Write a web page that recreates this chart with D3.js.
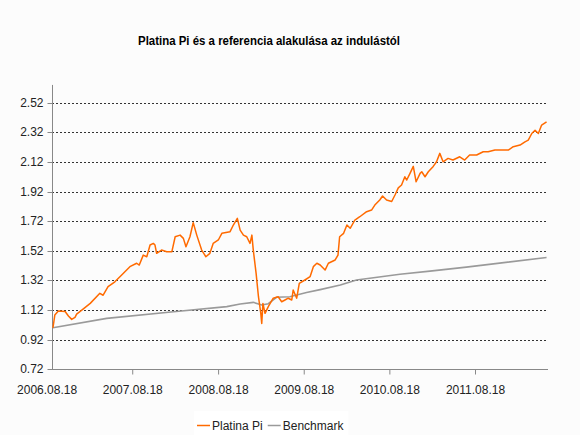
<!DOCTYPE html>
<html lang="hu">
<head>
<meta charset="UTF-8">
<title>Platina Pi</title>
<script src="https://d3js.org/d3.v7.min.js"></script>
<style>
    body { margin: 0; background: #fcfcfc; }
    svg { display: block; font-family: Arial, "Liberation Sans", sans-serif; }
    .tick text { font-size: 12px; fill: #222; }
    .grid line { stroke: #333; stroke-dasharray: 2,2; }
</style>
</head>
<body>
<svg id="chart" width="580" height="435"></svg>
<script>
// Platina Pi (orange)
const platinaDates = [
    "2006.09.14", "2006.09.22", "2006.10.07", "2006.11.05", "2006.11.19", "2006.12.03", "2006.12.17", "2006.12.24",
    "2007.01.15", "2007.02.20", "2007.04.02", "2007.04.16", "2007.05.07", "2007.06.05", "2007.07.04", "2007.08.08",
    "2007.09.06", "2007.09.17", "2007.10.04", "2007.10.19", "2007.11.02", "2007.11.16", "2007.11.23", "2007.11.30",
    "2007.12.21", "2008.01.12", "2008.02.03", "2008.02.17", "2008.03.09", "2008.03.23", "2008.04.03", "2008.04.20",
    "2008.05.04", "2008.05.19", "2008.06.09", "2008.06.27", "2008.07.14", "2008.07.28", "2008.08.19", "2008.09.03",
    "2008.10.08", "2008.10.22", "2008.11.08", "2008.11.20", "2008.12.04", "2008.12.18", "2009.01.01", "2009.01.09",
    "2009.01.15", "2009.01.27", "2009.02.06", "2009.02.16", "2009.02.20", "2009.02.25", "2009.03.06", "2009.03.20",
    "2009.04.10", "2009.05.01", "2009.05.16", "2009.05.30", "2009.06.13", "2009.06.28", "2009.07.04", "2009.07.19",
    "2009.07.30", "2009.08.23", "2009.09.14", "2009.09.28", "2009.10.13", "2009.10.27", "2009.11.17", "2009.12.01",
    "2009.12.30", "2010.01.11", "2010.01.18", "2010.02.04", "2010.02.18", "2010.03.04", "2010.03.24", "2010.04.14",
    "2010.05.13", "2010.06.03", "2010.06.17", "2010.07.08", "2010.07.20", "2010.08.06", "2010.08.28", "2010.09.11",
    "2010.09.25", "2010.10.09", "2010.10.23", "2010.10.31", "2010.11.14", "2010.11.28", "2010.12.10", "2010.12.27",
    "2011.01.03", "2011.01.17", "2011.01.31", "2011.02.21", "2011.03.07", "2011.03.21", "2011.04.04", "2011.04.25",
    "2011.05.16", "2011.06.14", "2011.07.05", "2011.07.26", "2011.08.25", "2011.09.22", "2011.10.13", "2011.11.11",
    "2011.12.10", "2012.01.07", "2012.01.28", "2012.02.26", "2012.03.18", "2012.04.01", "2012.04.16", "2012.04.30",
    "2012.05.14", "2012.05.28", "2012.06.18"
];
const platinaValues = [
    1.00, 1.086, 1.113, 1.11, 1.08, 1.057, 1.071, 1.093,
    1.12, 1.165, 1.233, 1.22, 1.278, 1.311, 1.357, 1.413,
    1.436, 1.424, 1.491, 1.48, 1.559, 1.57, 1.559, 1.503,
    1.525, 1.514, 1.514, 1.615, 1.626, 1.604, 1.547, 1.615,
    1.71, 1.626, 1.525, 1.48, 1.503, 1.57, 1.593, 1.638,
    1.649, 1.694, 1.739, 1.66, 1.626, 1.615, 1.57, 1.626,
    1.525, 1.368, 1.21, 1.098, 1.03, 1.165, 1.098, 1.143,
    1.2, 1.21, 1.176, 1.188, 1.2, 1.188, 1.255, 1.2,
    1.3, 1.323, 1.345, 1.413, 1.436, 1.424, 1.39, 1.436,
    1.458, 1.491, 1.615, 1.638, 1.694, 1.672, 1.728, 1.75,
    1.784, 1.795, 1.829, 1.863, 1.89, 1.863, 1.853, 1.897,
    1.945, 1.964, 2.02, 1.998, 2.043, 2.09, 1.986, 2.043,
    2.054, 2.02, 2.054, 2.09, 2.121, 2.178, 2.121, 2.144,
    2.133, 2.155, 2.133, 2.167, 2.167, 2.189, 2.189, 2.2,
    2.2, 2.2, 2.223, 2.234, 2.256, 2.267, 2.312, 2.334,
    2.312, 2.369, 2.391
];

// Benchmark (grey)
const benchDates = [
    "2006.09.14", "2007.05.01", "2008.02.10", "2008.09.24", "2008.11.20", "2009.01.15", "2009.02.20",
    "2009.03.20", "2009.04.24", "2009.06.20", "2009.08.30", "2009.10.27", "2010.01.21", "2010.03.31",
    "2010.10.02", "2011.02.07", "2011.07.12", "2012.06.18"
];
const benchValues = [
    1.00, 1.064, 1.109, 1.143, 1.161, 1.172, 1.154,
    1.163, 1.206, 1.21, 1.238, 1.258, 1.289, 1.323,
    1.362, 1.383, 1.41, 1.475
];

const yTicks = [0.72, 0.92, 1.12, 1.32, 1.52, 1.72, 1.92, 2.12, 2.32, 2.52];
const xTicks = ["2006.08.18", "2007.08.18", "2008.08.18", "2009.08.18", "2010.08.18", "2011.08.18"];

const parse = d3.timeParse("%Y.%m.%d");
const svg = d3.select("#chart");

const left = 52, right = 548, bottom = 369.3;

const x = d3.scaleTime()
    .domain([parse(xTicks[0]), parse(xTicks[5])])
    .range([46.6, 475]);
const y = d3.scaleLinear()
    .domain([0.72, 2.52])
    .range([bottom, 102.7]);
const plotTop = y(2.64);

// title (squeezed a bit, the original font renders narrow)
svg.append("text")
    .attr("x", 138)
    .attr("y", 45)
    .attr("textLength", 262)
    .attr("lengthAdjust", "spacingAndGlyphs")
    .style("font-size", "13px")
    .style("font-weight", "bold")
    .attr("fill", "#000")
    .text("Platina Pi és a referencia alakulása az indulástól");

// gridlines
svg.append("g")
    .attr("class", "grid")
    .selectAll("line")
    .data(yTicks.slice(1))
    .join("line")
    .attr("x1", left).attr("x2", right)
    .attr("y1", d => Math.round(y(d)) + 0.5)
    .attr("y2", d => Math.round(y(d)) + 0.5);

// y axis
const yAxis = svg.append("g")
    .attr("transform", `translate(${left + 0.5},0)`)
    .call(d3.axisLeft(y).tickValues(yTicks).tickFormat(d3.format(".2f")).tickSize(5).tickPadding(4));
yAxis.select(".domain").remove();
yAxis.selectAll(".tick line").attr("stroke", "#888");
yAxis.selectAll(".tick").attr("transform", d => `translate(0,${Math.round(y(d)) + 0.5})`);
svg.append("line")
    .attr("x1", left + 0.5).attr("x2", left + 0.5)
    .attr("y1", plotTop).attr("y2", Math.round(bottom) + 0.5)
    .attr("stroke", "#888");

// x axis
const xAxis = svg.append("g")
    .attr("transform", `translate(0,${Math.round(bottom) + 0.5})`)
    .call(d3.axisBottom(x).tickValues(xTicks.map(parse)).tickFormat(d3.timeFormat("%Y.%m.%d")).tickSize(5).tickPadding(11));
xAxis.select(".domain").remove();
xAxis.selectAll(".tick line").attr("stroke", "#888").filter((d, i) => i === 0).remove();
svg.append("line")
    .attr("x1", left - 4).attr("x2", right)
    .attr("y1", Math.round(bottom) + 0.5).attr("y2", Math.round(bottom) + 0.5)
    .attr("stroke", "#888");

// lines
const line = d3.line()
    .x(d => x(d[0]))
    .y(d => y(d[1]));

svg.append("path")
    .datum(benchDates.map((d, i) => [parse(d), benchValues[i]]))
    .attr("fill", "none")
    .attr("stroke", "#9a9a9a")
    .attr("stroke-width", 1.6)
    .attr("d", line);

svg.append("path")
    .datum(platinaDates.map((d, i) => [parse(d), platinaValues[i]]))
    .attr("fill", "none")
    .attr("stroke", "#ff6a00")
    .attr("stroke-width", 1.5)
    .attr("stroke-linejoin", "round")
    .attr("d", line);

// legend
const legend = svg.append("g");
const legendBox = legend.append("rect")
    .attr("y", 411).attr("height", 24)
    .attr("fill", "#fff");
const items = [["Platina Pi", "#ff6a00"], ["Benchmark", "#9a9a9a"]];
let lx = 197;
items.forEach(([name, color]) => {
    legend.append("line")
        .attr("x1", lx).attr("x2", lx + 13)
        .attr("y1", 425.5).attr("y2", 425.5)
        .attr("stroke", color).attr("stroke-width", 1.5);
    const t = legend.append("text")
        .attr("x", lx + 15).attr("y", 429.5)
        .style("font-size", "12px")
        .attr("fill", "#222")
        .text(name);
    lx += 15 + t.node().getComputedTextLength() + 5;
});
legendBox.attr("x", 194).attr("width", lx - 194);
</script>
</body>
</html>
